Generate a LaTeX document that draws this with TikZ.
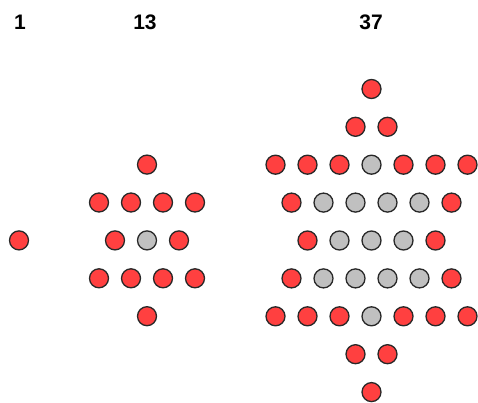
\documentclass[tikz,border=0pt]{standalone}
\usepackage{fontspec}
\setmainfont{Liberation Sans}
\definecolor{dotred}{RGB}{255,64,64}
\definecolor{dotgray}{RGB}{192,192,192}
\definecolor{dotline}{RGB}{40,40,40}
\begin{document}
\begin{tikzpicture}[x=1pt,y=-1pt,
  reddot/.style={circle,draw=dotline,line width=1.3pt,fill=dotred,minimum size=19pt,inner sep=0pt},
  graydot/.style={reddot,fill=dotgray},
  numlabel/.style={font=\fontsize{21}{21}\selectfont\bfseries,text=black,inner sep=0pt}]
\useasboundingbox (0,0) rectangle (478,403);
% labels
\node[numlabel] (l1) at (20,22.5) {1};
\node[numlabel] (l13) at (145,22.5) {13};
\node[numlabel] (l37) at (371,22.5) {37};
% figure 1
\node[reddot] (a) at (19,240.4) {};
% figure 13
\node[reddot] (b-1-1) at (147,164.6) {};
\foreach \i in {1,...,4} \node[reddot] (b-2-\i) at ({147+32*(\i-2.5)},202.5) {};
\foreach \s [count=\i] in {reddot,graydot,reddot} \node[\s] (b-3-\i) at ({147+32*(\i-2)},240.4) {};
\foreach \i in {1,...,4} \node[reddot] (b-4-\i) at ({147+32*(\i-2.5)},278.3) {};
\node[reddot] (b-5-1) at (147,316.2) {};
% figure 37
\node[reddot] (c-1-1) at (371.5,89) {};
\foreach \i in {1,2} \node[reddot] (c-2-\i) at ({371.5+32*(\i-1.5)},126.8) {};
\foreach \s [count=\i] in {reddot,reddot,reddot,graydot,reddot,reddot,reddot}
  \node[\s] (c-3-\i) at ({371.5+32*(\i-4)},164.7) {};
\foreach \s [count=\i] in {reddot,graydot,graydot,graydot,graydot,reddot}
  \node[\s] (c-4-\i) at ({371.5+32*(\i-3.5)},202.6) {};
\foreach \s [count=\i] in {reddot,graydot,graydot,graydot,reddot}
  \node[\s] (c-5-\i) at ({371.5+32*(\i-3)},240.5) {};
\foreach \s [count=\i] in {reddot,graydot,graydot,graydot,graydot,reddot}
  \node[\s] (c-6-\i) at ({371.5+32*(\i-3.5)},278.4) {};
\foreach \s [count=\i] in {reddot,reddot,reddot,graydot,reddot,reddot,reddot}
  \node[\s] (c-7-\i) at ({371.5+32*(\i-4)},316.3) {};
\foreach \i in {1,2} \node[reddot] (c-8-\i) at ({371.5+32*(\i-1.5)},354.2) {};
\node[reddot] (c-9-1) at (371.5,392.1) {};
\end{tikzpicture}
\end{document}
